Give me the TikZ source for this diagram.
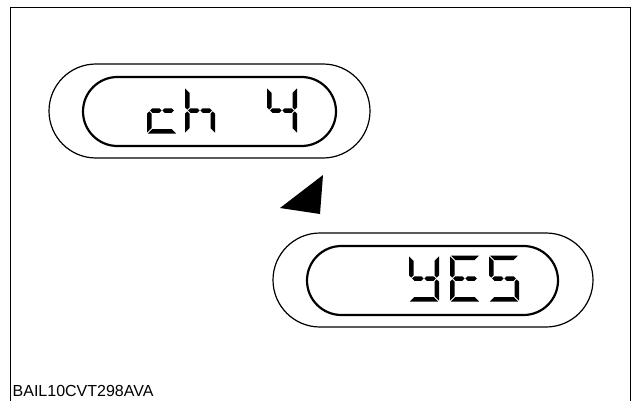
\documentclass[tikz,border=0pt]{standalone}
\usepackage{fontspec}
\setmainfont{Liberation Sans}
\def\lw{30}\def\lh{46}\def\lt{4.5}\def\lg{0.8}\def\lm{23}
\newcommand\lcdsega{\fill ({\lg},0) -- ({\lw-\lg},0) -- ({\lw-\lg-\lt},{\lt}) -- ({\lg+\lt},{\lt}) -- cycle;}
\newcommand\lcdsegd{\fill ({\lg},{\lh}) -- ({\lw-\lg},{\lh}) -- ({\lw-\lg-\lt},{\lh-\lt}) -- ({\lg+\lt},{\lh-\lt}) -- cycle;}
\newcommand\lcdsegf{\fill (0,{\lg}) -- ({\lt},{\lg+\lt}) -- ({\lt},{\lm-\lt/2-\lg}) -- ({\lt/2},{\lm-\lg}) -- (0,{\lm-\lt/2-\lg}) -- cycle;}
\newcommand\lcdsege{\fill (0,{\lh-\lg}) -- ({\lt},{\lh-\lg-\lt}) -- ({\lt},{\lm+\lt/2+\lg}) -- ({\lt/2},{\lm+\lg}) -- (0,{\lm+\lt/2+\lg}) -- cycle;}
\newcommand\lcdsegb{\fill ({\lw},{\lg}) -- ({\lw-\lt},{\lg+\lt}) -- ({\lw-\lt},{\lm-\lt/2-\lg}) -- ({\lw-\lt/2},{\lm-\lg}) -- ({\lw},{\lm-\lt/2-\lg}) -- cycle;}
\newcommand\lcdsegc{\fill ({\lw},{\lh-\lg}) -- ({\lw-\lt},{\lh-\lg-\lt}) -- ({\lw-\lt},{\lm+\lt/2+\lg}) -- ({\lw-\lt/2},{\lm+\lg}) -- ({\lw},{\lm+\lt/2+\lg}) -- cycle;}
\newcommand\lcdsegp{\fill ({\lg+\lt/2},{\lm}) -- ({\lg+\lt},{\lm-\lt/2}) -- ({\lw/2-\lg/2-\lt/2},{\lm-\lt/2}) -- ({\lw/2-\lg/2},{\lm}) -- ({\lw/2-\lg/2-\lt/2},{\lm+\lt/2}) -- ({\lg+\lt},{\lm+\lt/2}) -- cycle;}
\newcommand\lcdsegq{\fill ({\lw/2+\lg/2},{\lm}) -- ({\lw/2+\lg/2+\lt/2},{\lm-\lt/2}) -- ({\lw-\lg-\lt},{\lm-\lt/2}) -- ({\lw-\lg-\lt/2},{\lm}) -- ({\lw-\lg-\lt},{\lm+\lt/2}) -- ({\lw/2+\lg/2+\lt/2},{\lm+\lt/2}) -- cycle;}
\newcommand\lcdchar[3]{\begin{scope}[shift={(#1,#2)}]\foreach \s in {#3}{\csname lcdseg\s\endcsname}\end{scope}}
\begin{document}
\begin{tikzpicture}[x=1pt,y=-1pt,
  outerpill/.style={draw=black,line width=1.2pt},
  innerpill/.style={draw=black,line width=2.2pt},
  framestyle/.style={draw=black,line width=1.5pt}]
\useasboundingbox (0,0) rectangle (636,401);
\draw[framestyle] (10.5,401) -- (10.5,7.5) -- (630.5,7.5) -- (630.5,401);
% display 1
\draw[outerpill,rounded corners=47pt] (49,64) rectangle (370,158);
\draw[innerpill,rounded corners=34.5pt] (83,77) rectangle (336,146);
\lcdchar{147}{87.5}{p,q,e,d}
\lcdchar{185}{87.5}{f,e,p,q,c}
\lcdchar{267}{87.5}{f,b,p,q,c}
% arrow
\fill (323,175) -- (280,208) -- (320,214) -- cycle;
% display 2
\draw[outerpill,rounded corners=47pt] (273,233) rectangle (593,327);
\draw[innerpill,rounded corners=34.5pt] (307,246) rectangle (558,315);
\lcdchar{409}{255.5}{f,b,p,q,c,d}
\lcdchar{450}{255.5}{a,f,p,q,e,d}
\lcdchar{489}{255.5}{a,f,p,q,c,d}
\node[anchor=base west,inner sep=0pt,font=\fontsize{16}{19}\selectfont] (lbl) at (12.5,396) {BAIL10CVT298AVA};
\end{tikzpicture}
\end{document}
